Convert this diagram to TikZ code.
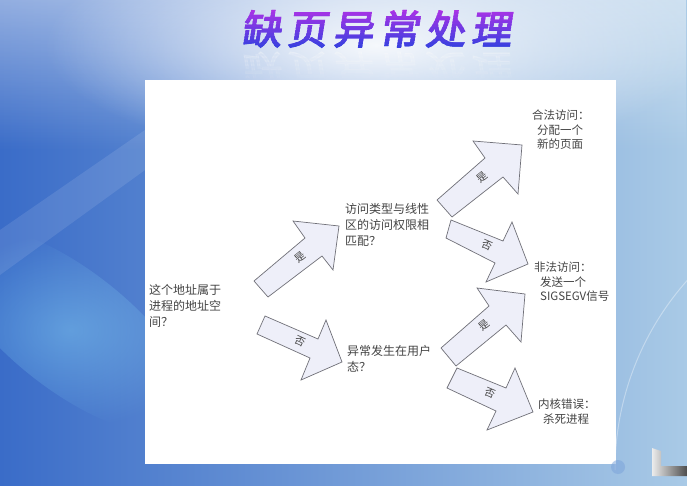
\documentclass[tikz,border=0pt]{standalone}
\usepackage{fontspec}
\setmainfont{Noto Sans CJK SC}
\newfontfamily\titlefont[FakeBold=3,FakeSlant=0.16]{Noto Sans CJK SC}
\usetikzlibrary{fadings}

\definecolor{bgdeep}{HTML}{3A6CC8}
\definecolor{bglight}{HTML}{A9CAE6}
\definecolor{arrowfill}{HTML}{EEEFF9}
\definecolor{arrowline}{HTML}{707078}
\definecolor{inktext}{HTML}{444444}
\definecolor{titletop}{HTML}{B232E6}
\definecolor{titlebot}{HTML}{3A40E0}

\tikzfading[name=glowfade, inner color=transparent!0, outer color=transparent!100]
\tikzfading[name=topfade, top color=transparent!0, bottom color=transparent!100]

\newcommand{\titlechars}{缺\hspace{6pt}页\hspace{6pt}异\hspace{6pt}常\hspace{6pt}处\hspace{6pt}理}

\begin{document}
\begin{tikzpicture}[x=1pt,y=-1pt,
  blockarrow/.style={fill=arrowfill, draw=arrowline, line width=0.7pt, line join=miter},
  armlabel/.style={font=\fontsize{10.5}{10.5}\selectfont, text=inktext, inner sep=0pt},
  question/.style={font=\fontsize{12}{16}\selectfont, text=inktext, align=left, anchor=west, inner sep=0pt},
  outcome/.style={font=\fontsize{11.5}{14.5}\selectfont, text=inktext, align=left, anchor=west, inner sep=0pt},
  titletext/.style={font=\titlefont\fontsize{40}{40}\selectfont, inner sep=0pt},
]
\useasboundingbox (0,0) rectangle (687,486);

% backdrop: blue gradient with a light haze on top
\shade[left color=bgdeep, right color=bglight] (0,0) rectangle (687,486);
\fill[white, path fading=topfade, opacity=0.45] (0,0) rectangle (687,150);
\fill[white, path fading=glowfade, opacity=0.9] (376,45) ellipse (330 and 115);
\fill[cyan!45!white, path fading=glowfade, opacity=0.4, rotate around={-38:(70,330)}] (70,330) ellipse (150 and 60);
\fill[white, opacity=0.1] (0,230) -- (145,130) -- (145,170) -- (0,275) -- cycle;
\draw[white, opacity=0.35, line width=1pt] (615,470) arc[start angle=180, end angle=225, radius=285];

% title with a vertical colour ramp, built from clipped strips
\foreach \i in {0,...,13} {
  \pgfmathsetmacro\mix{100-\i*100/13}
  \begin{scope}
    \clip (200,{7+3*\i}) rectangle (560,{10.2+3*\i});
    \node[titletext, text=titletop!\mix!titlebot] (title-\i) at (376,29) {\titlechars};
  \end{scope}
}
% faint reflection under the title
\foreach \i in {0,...,7} {
  \pgfmathsetmacro\op{0.13-\i*0.016}
  \begin{scope}
    \clip (200,{49+4*\i}) rectangle (560,{53.2+4*\i});
    \node[titletext, text=white, opacity=\op, yscale=-1] (reflection-\i) at (376,70) {\titlechars};
  \end{scope}
}

% white slide panel
\fill[white] (145,80) rectangle (616,464);
\fill[bgdeep!40!bglight, opacity=0.55] (618,467) circle (7);

% corner ornament
\shade[left color=white!85!gray, right color=gray!60!black]
  (652,448) -- (661,451) -- (661,466) -- (687,466) -- (687,476) -- (652,476) -- cycle;

% questions and outcomes
\node[question] (q-space) at (149,306) {这个地址属于\\进程的地址空\\间？};
\node[question] (q-access) at (345,225) {访问类型与线性\\区的访问权限相\\匹配？};
\node[question] (q-user) at (347,359) {异常发生在用户\\态？};
\node[outcome] (r-legal) at (532,130) {合法访问：\\\hspace*{5pt}分配一个\\\hspace*{5pt}新的页面};
\node[outcome] (r-illegal) at (534,282) {非法访问：\\\hspace*{6pt}发送一个\\\hspace*{6pt}SIGSEGV信号};
\node[outcome] (r-kernel) at (538,411.5) {内核错误：\\\hspace*{5pt}杀死进程};

% block arrows: yes / no branches
\draw[blockarrow] (254,281) -- (305,238) -- (293,221) -- (339,226) -- (333,270) -- (322,256) -- (268,297) -- cycle;
\node[armlabel, rotate=39] (lab-1) at (300,257) {是};

\draw[blockarrow] (265,316) -- (318,339) -- (326,320) -- (342,362) -- (301,380) -- (310,358) -- (257,334) -- cycle;
\node[armlabel, rotate=-25] (lab-2) at (300,341) {否};

\draw[blockarrow] (437,200) -- (485,158) -- (473,141) -- (522,145) -- (518,194) -- (503,177) -- (452,217) -- cycle;
\node[armlabel, rotate=39] (lab-3) at (482,177) {是};

\draw[blockarrow] (451,220) -- (503,241) -- (512,222) -- (528,264) -- (486,282) -- (495,263) -- (446,238) -- cycle;
\node[armlabel, rotate=-24] (lab-4) at (487,245) {否};

\draw[blockarrow] (441,348) -- (489,306) -- (477,288) -- (525,294) -- (521,342) -- (506,325) -- (456,366) -- cycle;
\node[armlabel, rotate=39] (lab-5) at (484,325) {是};

\draw[blockarrow] (457,368) -- (506,388) -- (515,368) -- (533,412) -- (487,430) -- (496,411) -- (447,388) -- cycle;
\node[armlabel, rotate=-23] (lab-6) at (490,393) {否};
\end{tikzpicture}
\end{document}
